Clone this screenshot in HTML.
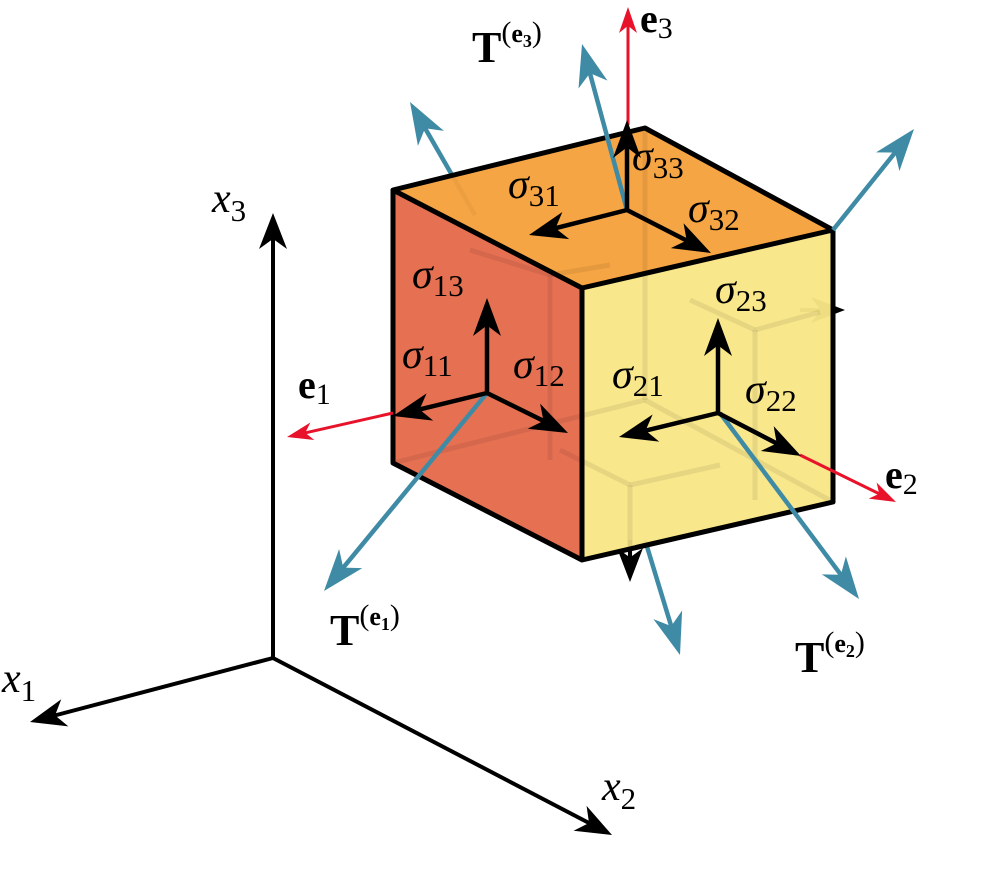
<!DOCTYPE html>
<html><head><meta charset="utf-8"><style>
html,body{margin:0;padding:0;background:#fff}
svg{display:block}
text{font-family:"Liberation Serif","DejaVu Serif",serif;fill:#000}
.it{font-style:italic}
.b{font-weight:bold}
</style></head><body>
<svg id="s" width="984" height="870" viewBox="0 0 984 870" xmlns="http://www.w3.org/2000/svg">
<g id="axes"></g>
<g id="back"></g>
<polygon points="393,190 582,288 582,560 393,463" fill="#E56B4C" fill-opacity="0.97"/>
<polygon points="393,190 645,128 833,230 582,288" fill="#F5A03A" fill-opacity="0.95"/>
<polygon points="582,288 833,230 833,502 582,560" fill="#F9E686" fill-opacity="0.96"/>
<g stroke="#000" stroke-opacity="0.07" stroke-width="5" fill="none">
<line x1="645" y1="128" x2="645" y2="400"/>
<line x1="645" y1="400" x2="393" y2="463"/>
<line x1="645" y1="400" x2="833" y2="502"/>
<line x1="550" y1="275" x2="550" y2="460"/>
<line x1="470" y1="250" x2="550" y2="275"/>
<line x1="550" y1="275" x2="610" y2="265"/>
<line x1="755" y1="330" x2="755" y2="500"/>
<line x1="690" y1="300" x2="755" y2="330"/>
<line x1="755" y1="330" x2="820" y2="312"/>
<line x1="630" y1="485" x2="630" y2="560"/>
<line x1="560" y1="450" x2="630" y2="485"/>
<line x1="630" y1="485" x2="720" y2="465"/>
</g>
<g stroke="#000" stroke-width="5" fill="none" stroke-linejoin="round">
<polygon points="393,190 645,128 833,230 833,502 582,560 393,463"/>
<polyline points="393,190 582,288 833,230"/>
<line x1="582" y1="288" x2="582" y2="560"/>
</g>
<g id="front"></g>
<g font-size="42">
<text x="508" y="198" class="it">σ<tspan font-size="31" font-style="normal" dy="8">31</tspan></text>
<text x="632" y="170" class="it">σ<tspan font-size="31" font-style="normal" dy="8">33</tspan></text>
<text x="688" y="222" class="it">σ<tspan font-size="31" font-style="normal" dy="8">32</tspan></text>
<text x="412" y="288" class="it">σ<tspan font-size="31" font-style="normal" dy="8">13</tspan></text>
<text x="402" y="368" class="it">σ<tspan font-size="31" font-style="normal" dy="8">11</tspan></text>
<text x="513" y="378" class="it">σ<tspan font-size="31" font-style="normal" dy="8">12</tspan></text>
<text x="715" y="303" class="it">σ<tspan font-size="31" font-style="normal" dy="8">23</tspan></text>
<text x="612" y="388" class="it">σ<tspan font-size="31" font-style="normal" dy="8">21</tspan></text>
<text x="745" y="403" class="it">σ<tspan font-size="31" font-style="normal" dy="8">22</tspan></text>
<text x="212" y="212" class="it">x<tspan font-size="31" font-style="normal" dy="9">3</tspan></text>
<text x="2" y="692" class="it">x<tspan font-size="31" font-style="normal" dy="9">1</tspan></text>
<text x="602" y="800" class="it">x<tspan font-size="31" font-style="normal" dy="9">2</tspan></text>
<text x="640" y="32" class="b" font-size="40">e<tspan font-size="30" font-weight="normal" dy="6">3</tspan></text>
<text x="298" y="398" class="b" font-size="40">e<tspan font-size="30" font-weight="normal" dy="6">1</tspan></text>
<text x="885" y="488" class="b" font-size="40">e<tspan font-size="30" font-weight="normal" dy="6">2</tspan></text>
<text x="472" y="62" class="b" font-size="44">T<tspan font-size="30" font-weight="normal" dy="-20">(</tspan><tspan font-size="26" font-weight="bold">e</tspan><tspan font-size="18" dy="5">3</tspan><tspan font-size="30" font-weight="normal" dy="-5">)</tspan></text>
<text x="330" y="645" class="b" font-size="44">T<tspan font-size="30" font-weight="normal" dy="-20">(</tspan><tspan font-size="26" font-weight="bold">e</tspan><tspan font-size="18" dy="5">1</tspan><tspan font-size="30" font-weight="normal" dy="-5">)</tspan></text>
<text x="795" y="672" class="b" font-size="44">T<tspan font-size="30" font-weight="normal" dy="-20">(</tspan><tspan font-size="26" font-weight="bold">e</tspan><tspan font-size="18" dy="5">2</tspan><tspan font-size="30" font-weight="normal" dy="-5">)</tspan></text>
</g>
</svg>
<script>
(function(){
var NS="http://www.w3.org/2000/svg";
function arrow(g,x1,y1,x2,y2,col,sw,L,W){
  var dx=x2-x1,dy=y2-y1,len=Math.sqrt(dx*dx+dy*dy),ux=dx/len,uy=dy/len,nx=-uy,ny=ux;
  var ln=document.createElementNS(NS,"line");
  var ex=x2-ux*L*0.6,ey=y2-uy*L*0.6;
  ln.setAttribute("x1",x1);ln.setAttribute("y1",y1);ln.setAttribute("x2",ex);ln.setAttribute("y2",ey);
  ln.setAttribute("stroke",col);ln.setAttribute("stroke-width",sw);
  g.appendChild(ln);
  var bx=x2-ux*L,by=y2-uy*L,mx=x2-ux*L*0.72,my=y2-uy*L*0.72;
  var p=document.createElementNS(NS,"polygon");
  p.setAttribute("points",[x2+","+y2,(bx+nx*W)+","+(by+ny*W),mx+","+my,(bx-nx*W)+","+(by-ny*W)].join(" "));
  p.setAttribute("fill",col);
  g.appendChild(p);
}
var A=document.getElementById("axes"),B=document.getElementById("back"),F=document.getElementById("front");
var K="#000",BL="#3F8BA5",R="#E8132A";
arrow(A,273,658,273,213,K,4,36,14);
arrow(A,273,658,30,722,K,4,36,14);
arrow(A,273,658,612,835,K,4,36,14);
arrow(B,475,215,410,102,BL,4.5,42,15);
arrow(B,645,540,680,655,BL,4.5,42,15);
arrow(B,800,310,845,310,K,4,34,13);
arrow(B,630,540,630,582,K,4,34,13);
arrow(F,628,125,628,7,R,3,26,9);
arrow(F,393,413,287,437,R,3,26,9);
arrow(F,800,455,896,502,R,3,26,9);
arrow(F,627,210,582,44,BL,4.5,42,15);
arrow(F,833,230,914,129,BL,4.5,42,15);
arrow(F,487,393,324,591,BL,4.5,42,15);
arrow(F,720,413,859,599,BL,4.5,42,15);
var s=[[627,210,627,120],[627,210,529,235],[627,210,711,253],[487,393,487,298],[487,393,393,416],[487,393,568,433],[718,413,718,318],[718,413,619,437],[718,413,801,456]];
s.forEach(function(a){arrow(F,a[0],a[1],a[2],a[3],K,4.5,38,14);});
})();
</script>
</body></html>
